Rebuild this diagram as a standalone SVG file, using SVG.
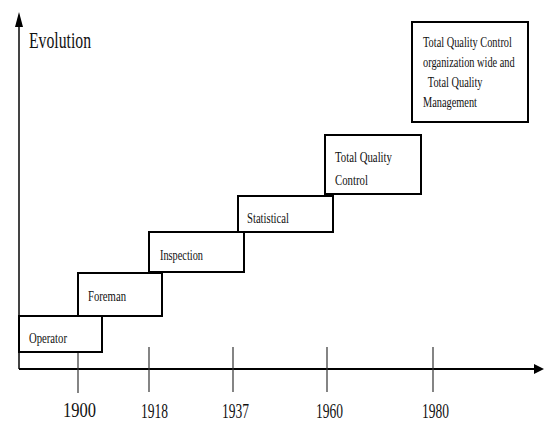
<svg xmlns="http://www.w3.org/2000/svg" width="544" height="423" viewBox="0 0 544 423">
<style>
.box{fill:none;stroke:#000;stroke-width:2}
.lbl{font-family:"Liberation Serif","Times New Roman",serif;font-size:15px;fill:#111}
.yr{font-family:"Liberation Serif","Times New Roman",serif;font-size:20px;fill:#111}
.tick{stroke:#333;stroke-width:1.2}
</style>
<rect width="544" height="423" fill="#fff"/>
<g id="axes">
<line x1="19" y1="369" x2="19" y2="24" stroke="#444" stroke-width="2"/>
<polygon points="19,12 15,27 23,27" fill="#000"/>
<line x1="19" y1="369" x2="535" y2="369" stroke="#000" stroke-width="2"/>
<polygon points="544,369 534,364 534,374" fill="#000"/>
<text x="29" y="48" font-family="'Liberation Serif','Times New Roman',serif" font-size="23" fill="#111" textLength="62" lengthAdjust="spacingAndGlyphs">Evolution</text>
</g>
<g id="ticks">
<line class="tick" x1="78" y1="352" x2="78" y2="393"/>
<line class="tick" x1="149" y1="347" x2="149" y2="392"/>
<line class="tick" x1="233" y1="347" x2="233" y2="392"/>
<line class="tick" x1="327" y1="347" x2="327" y2="392"/>
<line class="tick" x1="433" y1="347" x2="433" y2="392"/>
<text class="yr" x="63" y="417" textLength="33" lengthAdjust="spacingAndGlyphs">1900</text>
<text class="yr" x="141" y="418" textLength="27" lengthAdjust="spacingAndGlyphs">1918</text>
<text class="yr" x="222" y="418" textLength="27" lengthAdjust="spacingAndGlyphs">1937</text>
<text class="yr" x="316" y="418" textLength="27" lengthAdjust="spacingAndGlyphs">1960</text>
<text class="yr" x="422" y="418" textLength="27" lengthAdjust="spacingAndGlyphs">1980</text>
</g>
<g id="operator">
<rect class="box" x="19" y="316" width="83" height="36"/>
<text class="lbl" x="29" y="343" textLength="38" lengthAdjust="spacingAndGlyphs">Operator</text>
</g>
<g id="foreman">
<rect class="box" x="78" y="273" width="84" height="43"/>
<text class="lbl" x="88" y="301" textLength="38" lengthAdjust="spacingAndGlyphs">Foreman</text>
</g>
<g id="inspection">
<rect class="box" x="149" y="232" width="95" height="40"/>
<text class="lbl" x="160" y="260" textLength="43" lengthAdjust="spacingAndGlyphs">Inspection</text>
</g>
<g id="statistical">
<rect class="box" x="238" y="196" width="95" height="36"/>
<text class="lbl" x="247" y="223" textLength="42" lengthAdjust="spacingAndGlyphs">Statistical</text>
</g>
<g id="tqc">
<rect class="box" x="325" y="135" width="96" height="59"/>
<text class="lbl" x="335" y="162" textLength="57" lengthAdjust="spacingAndGlyphs">Total Quality</text>
<text class="lbl" x="335" y="185" textLength="33" lengthAdjust="spacingAndGlyphs">Control</text>
</g>
<g id="tqm">
<rect class="box" x="412" y="22" width="116" height="100"/>
<g transform="translate(423 0) scale(0.69 1)">
<text class="lbl" x="0" y="47">Total Quality Control</text>
<text class="lbl" x="0" y="67">organization wide and</text>
<text class="lbl" x="7" y="87">Total Quality</text>
<text class="lbl" x="0" y="107">Management</text>
</g>
</g>
</svg>
